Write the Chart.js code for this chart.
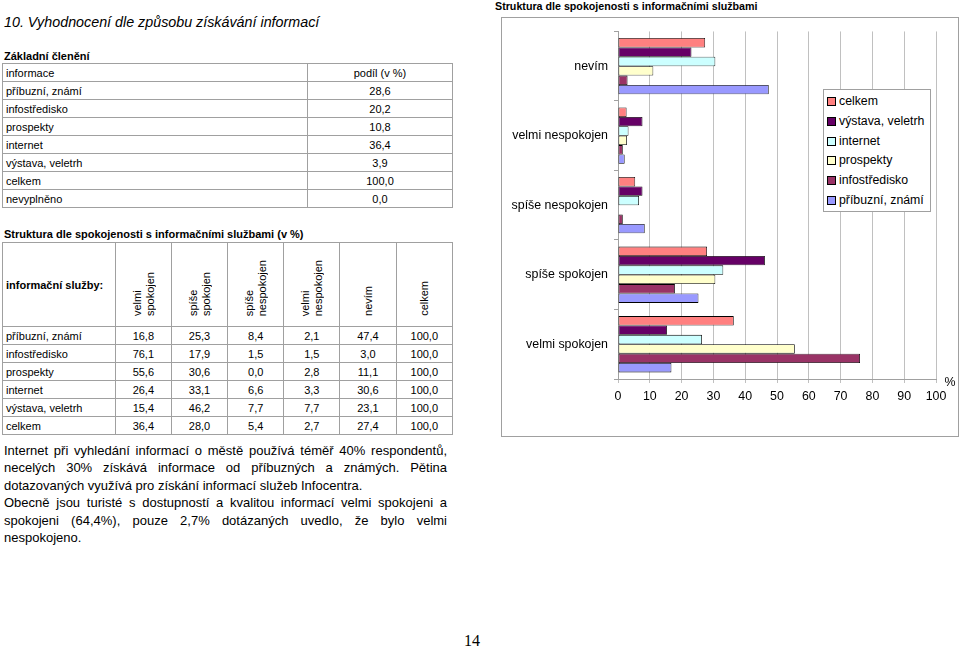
<!DOCTYPE html>
<html>
<head>
<meta charset="utf-8">
<script src="https://cdn.jsdelivr.net/npm/chart.js@4.4.1/dist/chart.umd.min.js"></script>
<style>
  body { margin: 0; background: #fff; font-family: "Liberation Sans", Arial, sans-serif; color: #000; }
  #page { position: relative; width: 960px; height: 648px; overflow: hidden; }
  .abs { position: absolute; }
  #title { left: 4px; top: 14px; font-size: 14.3px; font-style: italic; }
  .cap { font-size: 11px; font-weight: bold; }
  table { border-collapse: collapse; font-size: 11px; }
  td { border: 1px solid #a0a0a0; padding: 0 3px; height: 17px; line-height: 16px; }
  td.c { text-align: center; }
  .vt { display: inline-block; writing-mode: vertical-rl; transform: rotate(180deg); text-align: left; line-height: 12.5px; }
  th { border: 1px solid #a0a0a0; font-weight: normal; vertical-align: bottom; padding: 0 0 8px 0; height: 75px; }
  th.lab { text-align: left; vertical-align: middle; font-weight: bold; padding: 0 3px; white-space: nowrap; }
  #para { left: 4px; top: 442px; width: 443px; font-size: 13px; }
  #para div { line-height: 17.4px; text-align: justify; text-align-last: justify; white-space: nowrap; }
  #para div.last { text-align-last: left; }
  #chartBox { left: 501px; top: 17px; width: 456px; height: 418px; border: 1px solid #a0a0a0; }
  #legend { left: 823px; top: 89px; width: 106px; height: 121px; border: 1px solid #a0a0a0; background: #fff; font-size: 12.3px; }
  .li { position: absolute; left: 3px; height: 20px; line-height: 20px; white-space: nowrap; }
  .sw { display: inline-block; width: 7px; height: 7px; border: 1px solid #000; margin-right: 3px; vertical-align: -1px; }
</style>
</head>
<body>
<div id="page">
  <div id="title" class="abs">10. Vyhodnocení dle způsobu získávání informací</div>

  <div class="abs cap" style="left:4px; top:50px;">Základní členění</div>
  <table class="abs" style="left:2px; top:63px; width:451px;">
    <tr><td style="width:298px">informace</td><td class="c">podíl (v %)</td></tr>
    <tr><td>příbuzní, známí</td><td class="c">28,6</td></tr>
    <tr><td>infostředisko</td><td class="c">20,2</td></tr>
    <tr><td>prospekty</td><td class="c">10,8</td></tr>
    <tr><td>internet</td><td class="c">36,4</td></tr>
    <tr><td>výstava, veletrh</td><td class="c">3,9</td></tr>
    <tr><td>celkem</td><td class="c">100,0</td></tr>
    <tr><td>nevyplněno</td><td class="c">0,0</td></tr>
  </table>

  <div class="abs cap" style="left:4px; top:228px;">Struktura dle spokojenosti s informačními službami (v %)</div>
  <table class="abs" id="t2" style="left:2px; top:242px; width:451px;"></table>

  <div id="para" class="abs">
    <div>Internet při vyhledání informací o městě používá téměř 40% respondentů,</div>
    <div>necelých 30% získává informace od příbuzných a známých. Pětina</div>
    <div class="last">dotazovaných využívá pro získání informací služeb Infocentra.</div>
    <div>Obecně jsou turisté s dostupností a kvalitou informací velmi spokojeni a</div>
    <div>spokojeni (64,4%), pouze 2,7% dotázaných uvedlo, že bylo velmi</div>
    <div class="last">nespokojeno.</div>
  </div>

  <div class="abs" style="left:464px; top:632px; font-family:'Liberation Serif', serif; font-size:16px;">14</div>

  <div class="abs" style="left:495px; top:0px; font-size:10.7px; font-weight:bold;">Struktura dle spokojenosti s informačními službami</div>
  <div id="chartBox" class="abs"><canvas id="chart" width="456" height="418"></canvas></div>
  <div id="legend" class="abs"></div>
</div>

<script>
  // answers, top to bottom as in the chart
  var categories = ['nevím', 'velmi nespokojen', 'spíše nespokojen', 'spíše spokojen', 'velmi spokojen'];
  // values per source, in the order of categories above
  var celkem      = [27.4, 2.7, 5.4, 28.0, 36.4];
  var vystava     = [23.1, 7.7, 7.7, 46.2, 15.4];
  var internet    = [30.6, 3.3, 6.6, 33.1, 26.4];
  var prospekty   = [11.1, 2.8, 0.0, 30.6, 55.6];
  var infostred   = [3.0, 1.5, 1.5, 17.9, 76.1];
  var pribuzni    = [47.4, 2.1, 8.4, 25.3, 16.8];
  var seriesNames = ['celkem', 'výstava, veletrh', 'internet', 'prospekty', 'infostředisko', 'příbuzní, známí'];
  var seriesColors = ['#FF8080', '#660066', '#CCFFFF', '#FFFFCC', '#993366', '#9999FF'];
  var xTicks = [0, 10, 20, 30, 40, 50, 60, 70, 80, 90, 100];

  // table 2: rows of sources, columns in table order
  var tableCols = ['velmi spokojen', 'spíše spokojen', 'spíše nespokojen', 'velmi nespokojen', 'nevím', 'celkem'];
  var tableRows = ['příbuzní, známí', 'infostředisko', 'prospekty', 'internet', 'výstava, veletrh', 'celkem'];
  var tableVals = [
    ['16,8', '25,3', '8,4', '2,1', '47,4', '100,0'],
    ['76,1', '17,9', '1,5', '1,5', '3,0', '100,0'],
    ['55,6', '30,6', '0,0', '2,8', '11,1', '100,0'],
    ['26,4', '33,1', '6,6', '3,3', '30,6', '100,0'],
    ['15,4', '46,2', '7,7', '7,7', '23,1', '100,0'],
    ['36,4', '28,0', '5,4', '2,7', '27,4', '100,0']
  ];

  var t2 = document.getElementById('t2');
  var head = '<tr><th class="lab" style="width:106px">informační služby:</th>';
  tableCols.forEach(function (c) {
    head += '<th style="width:56px"><span class="vt">' + c.replace(' ', '<br>') + '</span></th>';
  });
  t2.innerHTML = head + '</tr>' + tableRows.map(function (r, i) {
    return '<tr><td>' + r + '</td>' + tableVals[i].map(function (v) { return '<td class="c">' + v + '</td>'; }).join('') + '</tr>';
  }).join('');

  var seriesData = [celkem, vystava, internet, prospekty, infostred, pribuzni];

  var percentLabel = {
    id: 'percentLabel',
    afterDraw: function (chart) {
      var ctx = chart.ctx, a = chart.chartArea;
      ctx.save();
      ctx.font = '12.4px "Liberation Sans", Arial, sans-serif';
      ctx.fillStyle = '#000';
      ctx.textAlign = 'center';
      ctx.textBaseline = 'middle';
      ctx.fillText('%', a.right + 14, a.bottom + 4);
      ctx.restore();
    }
  };

  var chart = new Chart(document.getElementById('chart').getContext('2d'), {
    type: 'bar',
    data: {
      labels: categories,
      datasets: seriesData.map(function (d, i) {
        return {
          label: seriesNames[i],
          data: d,
          backgroundColor: seriesColors[i],
          borderColor: '#000',
          borderWidth: 0.8,
          borderSkipped: false,
          barPercentage: 1.0,
          categoryPercentage: 0.81
        };
      })
    },
    options: {
      indexAxis: 'y',
      responsive: false,
      animation: false,
      layout: { padding: { top: 9, right: 22, left: 0, bottom: 0 } },
      scales: {
        x: {
          min: 0, max: 100,
          afterBuildTicks: function (s) { s.ticks = xTicks.map(function (v) { return { value: v }; }); },
          grid: { color: '#c0c0c0', tickLength: 4, lineWidth: 1 },
          border: { color: '#a0a0a0' },
          ticks: { color: '#000', font: { family: 'Liberation Sans', size: 12.4 }, padding: 6, maxRotation: 0 },
          afterFit: function (s) { s.height = 57; }
        },
        y: {
          grid: { drawOnChartArea: false, color: '#a0a0a0', tickLength: 4, offset: true },
          border: { color: '#a0a0a0' },
          ticks: { color: '#000', font: { family: 'Liberation Sans', size: 12.4 }, padding: 6 },
          afterFit: function (s) { s.width = 116; }
        }
      },
      plugins: { legend: { display: false }, tooltip: { enabled: false } }
    },
    plugins: [percentLabel]
  });

  // legend box built from the datasets
  var lg = document.getElementById('legend');
  chart.data.datasets.forEach(function (ds, i) {
    var el = document.createElement('div');
    el.className = 'li';
    el.style.top = (1 + i * 19.8) + 'px';
    el.innerHTML = '<span class="sw" style="background:' + ds.backgroundColor + '"></span>' + ds.label;
    lg.appendChild(el);
  });
</script>
</body>
</html>
